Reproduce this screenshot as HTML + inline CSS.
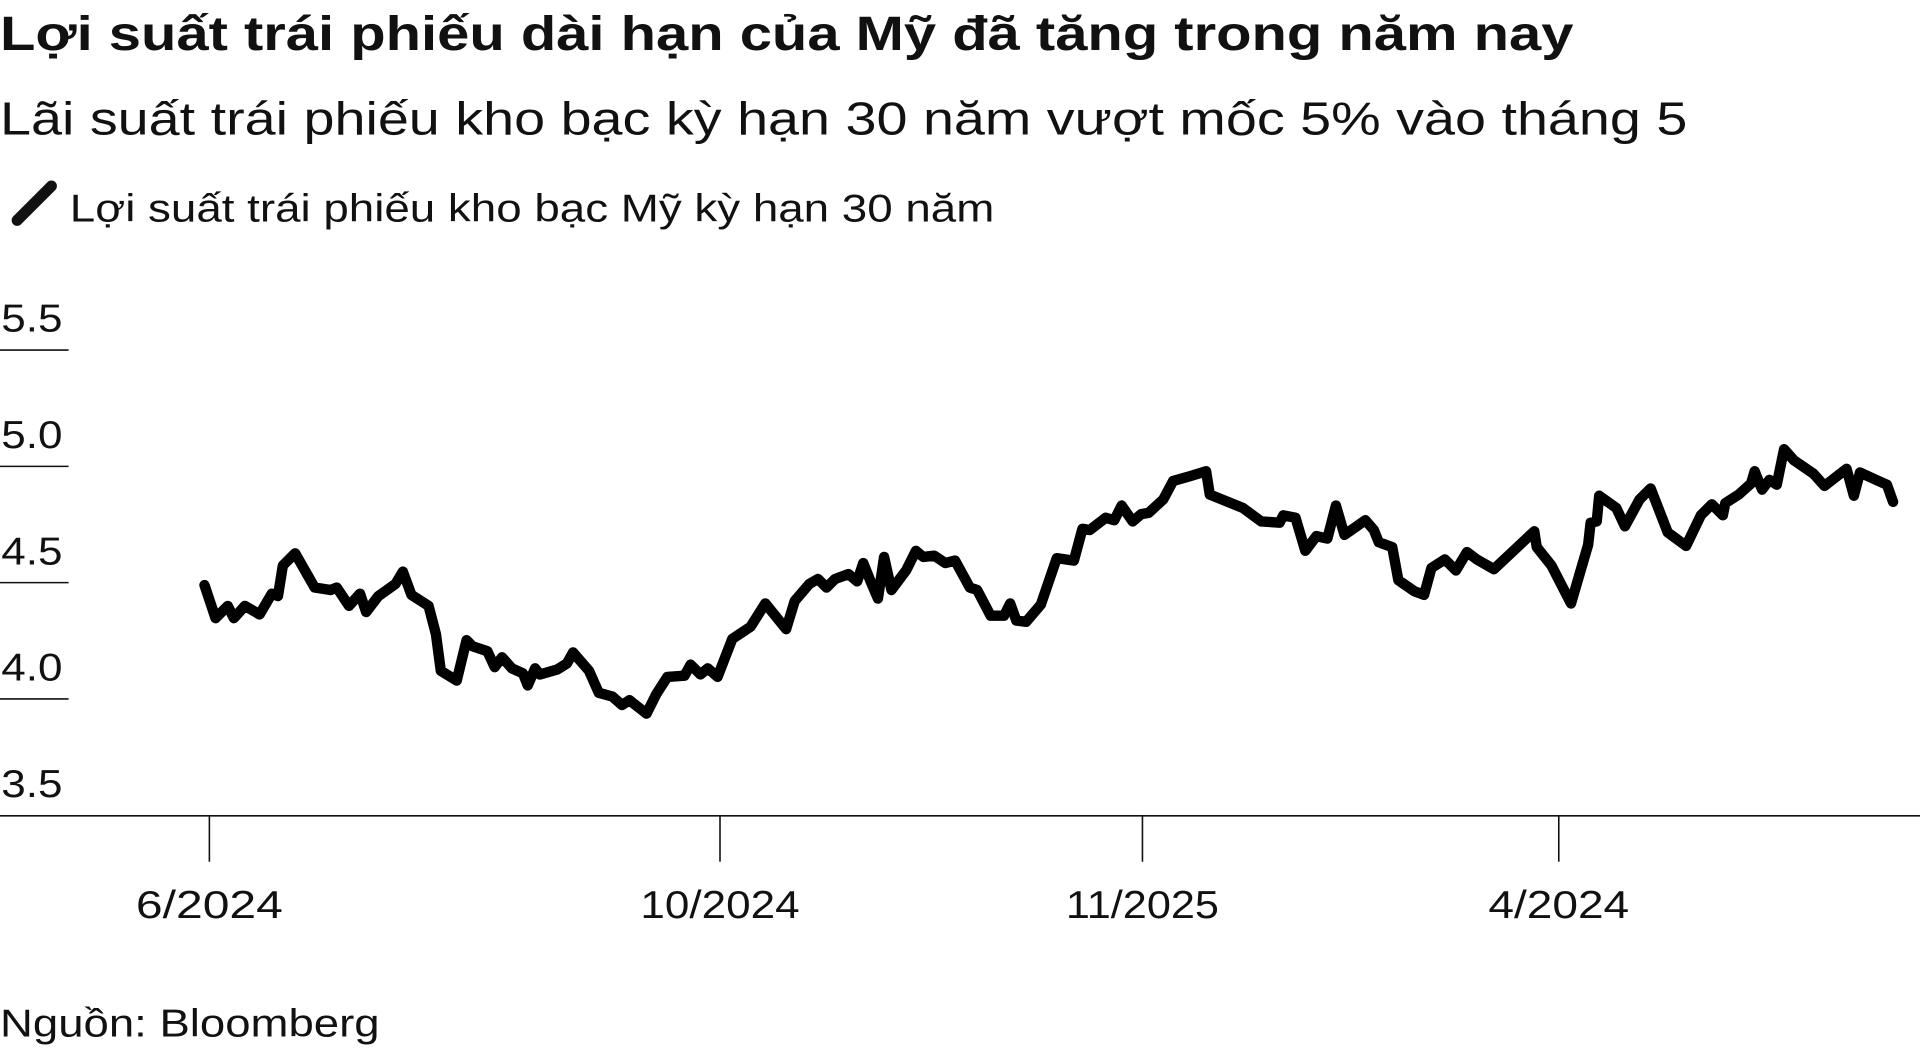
<!DOCTYPE html>
<html><head><meta charset="utf-8"><style>
html,body{margin:0;padding:0;background:#fff;width:1920px;height:1049px;overflow:hidden}
svg{display:block}
text{font-family:"Liberation Sans",sans-serif;fill:#111}
</style></head><body>
<svg width="1920" height="1049" viewBox="0 0 1568 857" preserveAspectRatio="none">
<text x="0" y="41" font-size="39" font-weight="bold" textLength="1285" lengthAdjust="spacingAndGlyphs">Lợi suất trái phiếu dài hạn của Mỹ đã tăng trong năm nay</text>
<text x="0" y="110" font-size="38" textLength="1378" lengthAdjust="spacingAndGlyphs">Lãi suất trái phiếu kho bạc kỳ hạn 30 năm vượt mốc 5% vào tháng 5</text>
<line x1="14" y1="180" x2="42" y2="152" stroke="#111" stroke-width="9" stroke-linecap="round"/>
<text x="57" y="181" font-size="32" textLength="755" lengthAdjust="spacingAndGlyphs">Lợi suất trái phiếu kho bạc Mỹ kỳ hạn 30 năm</text>
<g font-size="32">
<text x="1" y="271" textLength="50" lengthAdjust="spacingAndGlyphs">5.5</text>
<text x="1" y="366" textLength="50" lengthAdjust="spacingAndGlyphs">5.0</text>
<text x="1" y="461" textLength="50" lengthAdjust="spacingAndGlyphs">4.5</text>
<text x="1" y="556" textLength="50" lengthAdjust="spacingAndGlyphs">4.0</text>
<text x="1" y="651" textLength="50" lengthAdjust="spacingAndGlyphs">3.5</text>
</g>
<g stroke="#111" stroke-width="1.3">
<line x1="0" y1="286" x2="56" y2="286"/>
<line x1="0" y1="381" x2="56" y2="381"/>
<line x1="0" y1="476" x2="56" y2="476"/>
<line x1="0" y1="571" x2="56" y2="571"/>
<line x1="0" y1="666.5" x2="1568" y2="666.5"/>
<line x1="171" y1="666" x2="171" y2="704"/>
<line x1="588" y1="666" x2="588" y2="704"/>
<line x1="933" y1="666" x2="933" y2="704"/>
<line x1="1273" y1="666" x2="1273" y2="704"/>
</g>
<g font-size="32" text-anchor="middle">
<text x="171" y="750" textLength="120" lengthAdjust="spacingAndGlyphs">6/2024</text>
<text x="588" y="750" textLength="130" lengthAdjust="spacingAndGlyphs">10/2024</text>
<text x="933" y="750" textLength="125" lengthAdjust="spacingAndGlyphs">11/2025</text>
<text x="1273" y="750" textLength="115" lengthAdjust="spacingAndGlyphs">4/2024</text>
</g>
<text x="0" y="847" font-size="32" textLength="310" lengthAdjust="spacingAndGlyphs">Nguồn: Bloomberg</text>
<polyline fill="none" stroke="#000" stroke-width="8.5" stroke-linejoin="round" stroke-linecap="round" points="167,478 176,505 186,495 191,505 200,495 212,502 222,485 227,487 231,462 241,452 257,480 270,482 275,480 285,495 294,485 299,500 309,487 323,477 329,467 336,486 350,495 356,518 360,548 373,556 381,523 386,528 398,532 404,545 410,537 418,546 427,550 431,560 437,546 441,551 455,547 463,542 468,533 481,548 489,566 500,569 508,576 514,572 528,583 536,567 545,553 559,552 564,543 572,551 578,546 586,553 598,522 613,512 625,493 642,514 649,491 661,477 668,473 675,480 682,473 693,469 700,475 705,460 711,475 717,489 722,455 728,482 740,466 748,450 754,455 763,454 772,460 780,458 792,480 798,482 809,503 820,503 825,493 830,507 838,508 850,494 863,456 877,458 884,432 890,433 903,423 910,425 916,413 925,426 932,420 938,419 950,408 958,393 972,389 985,385 988,404 1015,415 1030,426 1045,427 1048,421 1058,423 1066,450 1075,438 1084,440 1091,413 1098,437 1115,425 1122,433 1126,443 1137,447 1142,474 1155,483 1163,486 1169,464 1180,457 1189,466 1198,451 1206,457 1220,465 1253,434 1255,447 1267,462 1283,493 1297,445 1299,427 1304,426 1306,405 1320,415 1327,430 1339,408 1348,399 1362,435 1377,446 1389,421 1398,412 1407,421 1409,411 1420,404 1430,395 1433,385 1439,400 1445,392 1451,396 1457,367 1465,376 1481,387 1490,397 1508,383 1514,405 1519,386 1532,392 1541,396 1546,410"/>
</svg>
</body></html>
